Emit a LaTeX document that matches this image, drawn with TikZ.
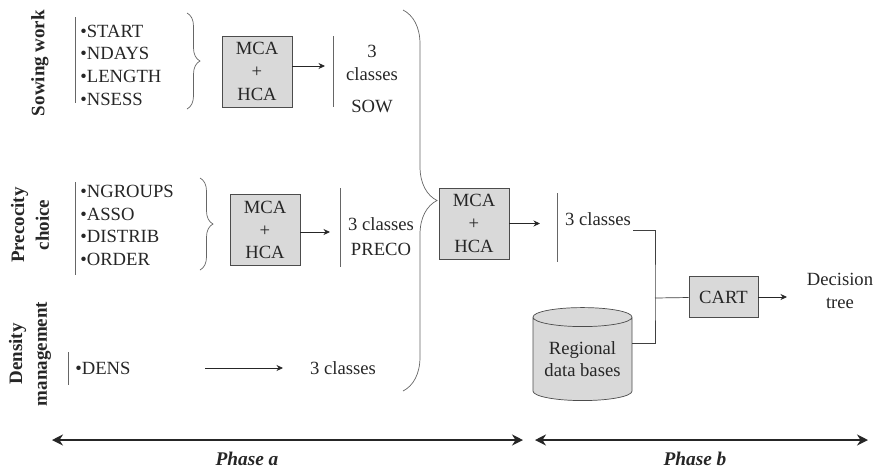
\documentclass[tikz,border=0pt]{standalone}
\usepackage{fontspec}
\setmainfont{Liberation Serif}
\usetikzlibrary{arrows.meta,decorations.pathreplacing,shapes.geometric}
\begin{document}
\begin{tikzpicture}[x=0.2mm,y=-0.2mm,
  txt/.style={font=\fontsize{10.6}{12.9}\selectfont, inner sep=0pt, text=black!85},
  ttl/.style={font=\fontsize{10.8}{14}\selectfont\bfseries, rotate=90, align=center, inner sep=0pt, text=black!85},
  mcabox/.style={txt, draw=black!70, fill=black!15, align=center, minimum width=14mm, minimum height=14.2mm},
  bar/.style={draw=black!60, line width=0.5pt},
  brc/.style={draw=black!60, decorate, decoration={brace, amplitude=#1}},
  conn/.style={draw=black!75},
  arr/.style={draw=black!85, -{Stealth[length=1.3mm,width=1.2mm]}},
  phase/.style={draw=black!85, line width=1.5pt, {Stealth[length=2.2mm,width=2.2mm]}-{Stealth[length=2.2mm,width=2.2mm]}}]
\useasboundingbox (0,0) rectangle (878,469);
\node[ttl] (sowt) at (40,63) {Sowing work};
\node[txt, align=left, anchor=west] (sowl) at (80,65) {•START\\•NDAYS\\•LENGTH\\•NSESS};
\draw[bar] (75,17) -- (75,103);
\draw[brc=2.6mm] (187,13) -- (187,109);
\node[mcabox] (mca1) at (257,71.5) {MCA\\+\\HCA};
\draw[bar] (333,36) -- (333,107);
\node[txt, align=center] (sow) at (372,79) {3\\classes\\[1.8mm]SOW};
\coordinate (sowin) at (325,66);
\draw[arr] (mca1.east |- sowin) -- (sowin);
\node[ttl] (prect) at (30,225) {Precocity\\choice};
\node[txt, align=left, anchor=west] (precl) at (80,225.5) {•NGROUPS\\•ASSO\\•DISTRIB\\•ORDER};
\draw[bar] (75,182) -- (75,275);
\draw[brc=2.6mm] (200,178) -- (200,270);
\node[mcabox] (mca2) at (265,230) {MCA\\+\\HCA};
\draw[bar] (340,188) -- (340,267);
\node[txt, align=center] (preco) at (381,236.5) {3 classes\\[0.5mm]PRECO};
\coordinate (precin) at (330,232);
\draw[arr] (mca2.east |- precin) -- (precin);
\node[ttl] (denst) at (30,354) {Density\\management};
\node[txt, anchor=west] (dens) at (75,368) {•DENS};
\draw[bar] (68,352) -- (68,385);
\node[txt] (clsdens) at (343,368) {3 classes};
\coordinate (densa) at (205,368);
\coordinate (densb) at (283,368);
\draw[arr] (densa) -- (densb);
\draw[brc=6.8mm] (403,10) -- (403,391);
\node[mcabox] (mca3) at (474,223.5) {MCA\\+\\HCA};
\coordinate (finin) at (540,223.5);
\draw[arr] (mca3) -- (finin);
\draw[bar] (557,193) -- (557,262);
\node[txt] (clsfin) at (598,219) {3 classes};
\node[txt, draw=black!70, fill=black!15, cylinder, shape border rotate=90, aspect=0.25, minimum width=19.8mm, minimum height=18.6mm, align=center] (regdb) at (582.5,359) {Regional\\data bases};
\node[mcabox, minimum width=13.8mm, minimum height=8.2mm] (cart) at (723.5,297) {CART};
\node[txt, align=center] (dectree) at (840,291) {Decision\\tree};
\coordinate (clsout) at (633,230);
\coordinate (junc) at (655,298);
\coordinate (dbout) at (632,343);
\draw[conn] (clsout) -| (junc) |- (dbout);
\draw[conn] (junc) -- (cart);
\coordinate (cartout) at (787,297);
\draw[arr] (cart) -- (cartout);
\coordinate (pa1) at (52,440);
\coordinate (pa2) at (523,440);
\coordinate (pb1) at (535,440);
\coordinate (pb2) at (868,440);
\draw[phase] (pa1) -- (pa2);
\draw[phase] (pb1) -- (pb2);
\node[txt, font=\fontsize{11}{13}\selectfont\bfseries\itshape] (phasea) at (247,459) {Phase a};
\node[txt, font=\fontsize{11}{13}\selectfont\bfseries\itshape] (phaseb) at (695,459) {Phase b};
\end{tikzpicture}
\end{document}
